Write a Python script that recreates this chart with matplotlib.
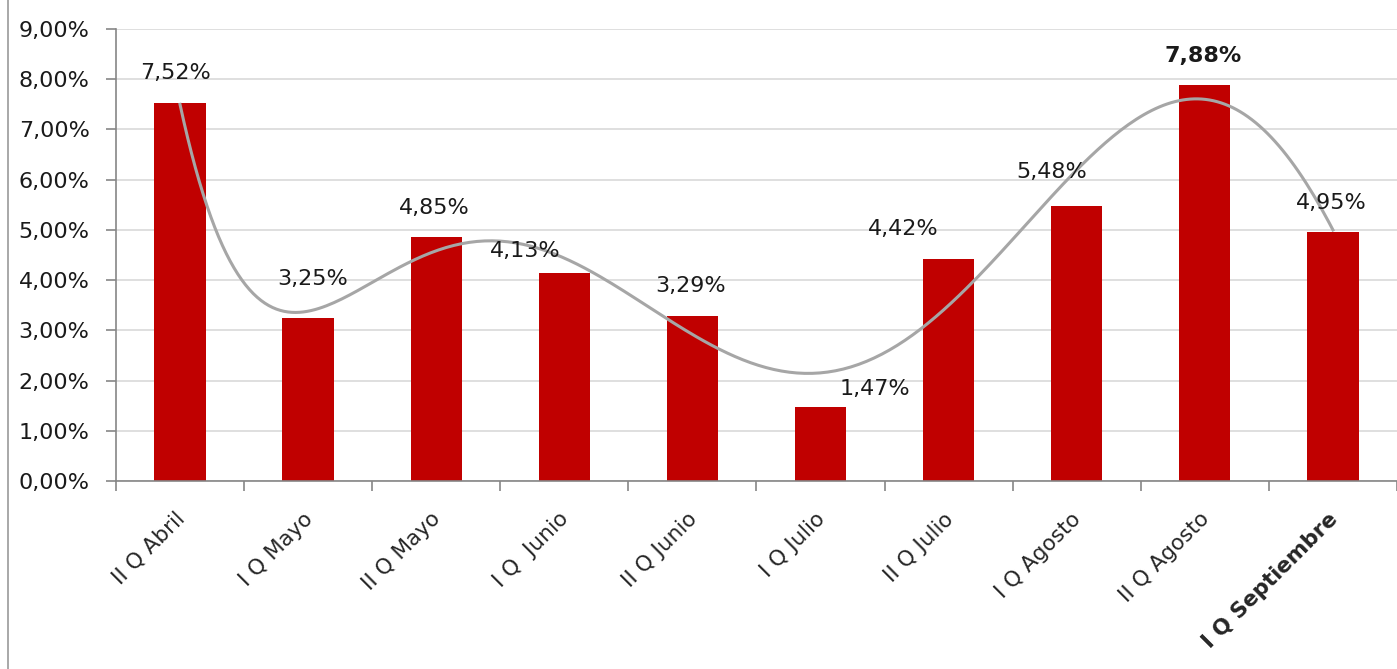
import numpy as np
import matplotlib
matplotlib.use("Agg")
import matplotlib.pyplot as plt
from matplotlib.lines import Line2D
from matplotlib.transforms import ScaledTranslation
from matplotlib.ticker import FuncFormatter, MultipleLocator, FixedLocator

plt.rcParams['font.family'] = ['DejaVu Sans']

categories = ['II Q Abril', 'I Q Mayo', 'II Q Mayo', 'I Q  Junio', 'II Q Junio',
              'I Q Julio', 'II Q Julio', 'I Q Agosto', 'II Q Agosto', 'I Q Septiembre']
values = [7.52, 3.25, 4.85, 4.13, 3.29, 1.47, 4.42, 5.48, 7.88, 4.95]

# label offsets in points (dx, dy) from the bar top
label_offsets = [(-3, 22), (3, 28), (-1.5, 21), (-28, 16.5), (-1, 21.5),
                 (39, 13), (-33, 21.5), (-18, 24.5), (-1, 21), (-1, 21)]
bold_labels = [8]
fs = 16


def pct(v, pos=None):
    return ('%.2f%%' % v).replace('.', ',')


fig = plt.figure(figsize=(13.97, 6.69), dpi=100)
ax = fig.add_axes([0.083, 0.281, 0.917, 0.676])

x = np.arange(len(values))
ax.bar(x, values, width=0.4, color='#C00000', zorder=2)

# excel style polynomial trendline
coef = np.polyfit(x, values, 6)
xs = np.linspace(0, len(values) - 1, 300)
ax.plot(xs, np.polyval(coef, xs), color='#A6A6A6', lw=2.2, zorder=3)

for i, v in enumerate(values):
    dx, dy = label_offsets[i]
    ax.annotate(pct(v), (x[i], v), xytext=(dx, dy), textcoords='offset points',
                ha='center', va='center', fontsize=fs, color='#1a1a1a',
                fontweight='bold' if i in bold_labels else 'normal', zorder=4)

ax.set_xlim(-0.5, len(values) - 0.5)
ax.set_ylim(0, 9)
ax.yaxis.set_major_locator(MultipleLocator(1))
ax.yaxis.set_major_formatter(FuncFormatter(pct))
ax.grid(axis='y', color='#D9D9D9', lw=1.2, zorder=0)
ax.set_axisbelow(True)

ax.xaxis.set_major_locator(FixedLocator(x))
ax.set_xticklabels(categories)
ax.xaxis.set_minor_locator(FixedLocator(np.arange(-0.5, len(values), 1)))
ax.tick_params(axis='x', which='major', length=0, pad=20)
ax.tick_params(axis='x', which='minor', length=7, color='#868686', width=1.2)
ax.tick_params(axis='y', length=7, color='#868686', width=1.2, labelsize=fs,
               labelcolor='#1a1a1a', pad=12)

shift = ScaledTranslation(-4 / 72, 0, fig.dpi_scale_trans)
for lbl in ax.get_xticklabels():
    lbl.set_rotation(45)
    lbl.set_ha('right')
    lbl.set_va('top')
    lbl.set_rotation_mode('anchor')
    lbl.set_fontsize(15.5)
    lbl.set_color('#262626')
    lbl.set_transform(lbl.get_transform() + shift)
ax.get_xticklabels()[-1].set_fontweight('bold')

for s in ['top', 'right']:
    ax.spines[s].set_visible(False)
for s in ['left', 'bottom']:
    ax.spines[s].set_color('#868686')
    ax.spines[s].set_linewidth(1.2)

fig.add_artist(Line2D([0.006, 0.006], [0, 1], transform=fig.transFigure,
                      color='#9a9a9a', lw=1.2))

fig.savefig('out.png', dpi=100)
